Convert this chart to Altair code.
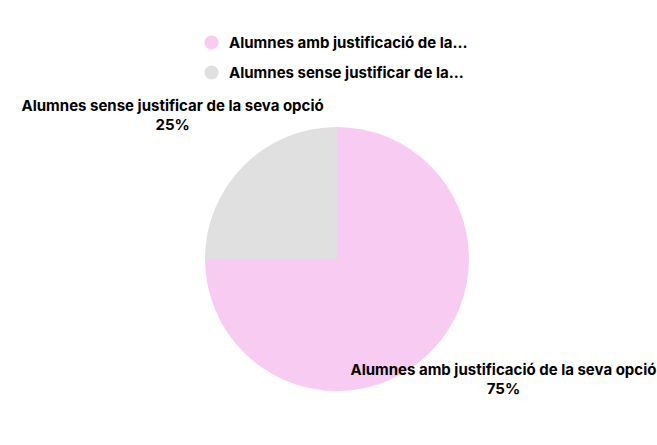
import altair as alt
import pandas as pd

categories = ["Alumnes amb justificació de la seva opció", "Alumnes sense justificar de la seva opció"]
values = [75, 25]
colors = ["#F8CCF2", "#E0E0E0"]
order = [1, 2]

df = pd.DataFrame({"category": categories, "value": values, "order": order})

FONT = "Inter"

base = alt.Chart(df).transform_window(
    cum="sum(value)", sort=[alt.SortField("order")]
).transform_calculate(
    mid="datum.cum - datum.value / 2",
    label="datum.category + '\\n' + datum.value + '%'",
)

arc = base.mark_arc(outerRadius=132, stroke=None).encode(
    theta=alt.Theta("value:Q", stack=True, scale=alt.Scale(domain=[0, 100])),
    order=alt.Order("order:Q"),
    color=alt.Color(
        "category:N",
        scale=alt.Scale(domain=categories, range=colors),
        sort=categories,
        legend=alt.Legend(
            title=None,
            orient="none",
            legendX=187,
            legendY=-38,
            symbolType="circle",
            symbolSize=200,
            symbolStrokeWidth=0,
            labelFont=FONT,
            labelFontSize=15,
            labelFontWeight="bold",
            labelColor="#000000",
            labelLimit=400,
            rowPadding=14,
            labelOffset=10,
            labelExpr="slice(datum.label, 0, 30) + '...'",
        ),
    ),
)

def text_layer(cat, dx, dy):
    return base.transform_filter(alt.datum.category == cat).mark_text(
        font=FONT, fontSize=15, fontWeight="bold", color="#000000",
        align="center", baseline="middle", lineBreak="\n", lineHeight=19,
        radius=200, dx=dx, dy=dy,
    ).encode(
        theta=alt.Theta("mid:Q", stack=None, scale=alt.Scale(domain=[0, 100])),
        text="label:N",
    )

t1 = text_layer(categories[0], 25, -30)
t2 = text_layer(categories[1], -23, -12)

chart = alt.layer(arc, t1, t2).properties(
    width=640, height=372,
    padding={"left": 17, "top": 73, "right": 0, "bottom": 0},
    autosize=alt.AutoSizeParams(type="none"),
    background="#ffffff",
).configure_view(stroke=None)

chart.save("out.html", embed_options={"renderer": "svg", "actions": False})
